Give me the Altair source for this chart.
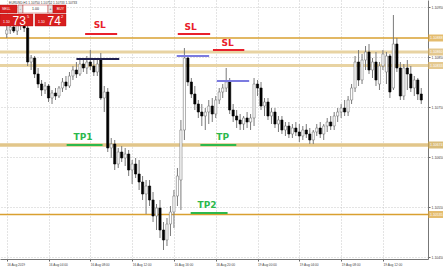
import altair as alt
import pandas as pd

# ---------------- data (prices in points, 1 point = 0.00001) ----------------
opens = [110896, 110904, 110910, 110902, 110916, 110920, 110908, 110840, 110848, 110816,
         110796, 110784, 110792, 110768, 110778, 110772, 110788, 110800, 110792, 110812,
         110824, 110816, 110836, 110828, 110840, 110832, 110820, 110844, 110768, 110780,
         110668, 110676, 110636, 110660, 110648, 110656, 110624, 110636, 110616, 110600,
         110576, 110592, 110564, 110532, 110548, 110504, 110484, 110516, 110540, 110572,
         110604, 110704, 110848, 110800, 110776, 110756, 110740, 110732, 110740, 110752,
         110736, 110764, 110780, 110788, 110800, 110744, 110732, 110724, 110716, 110728,
         110720, 110728, 110796, 110788, 110752, 110760, 110732, 110740, 110716, 110724,
         110704, 110712, 110696, 110708, 110700, 110692, 110704, 110696, 110684, 110700,
         110708, 110696, 110712, 110720, 110712, 110732, 110740, 110748, 110740, 110764,
         110788, 110840, 110804, 110844, 110860, 110824, 110840, 110796, 110832, 110820,
         110852, 110788, 110876, 110828, 110772, 110828, 110816, 110788, 110804, 110776]
highs = [110912, 110920, 110924, 110928, 110932, 110928, 110912, 110854, 110852, 110828,
         110804, 110800, 110796, 110784, 110788, 110792, 110808, 110812, 110820, 110832,
         110840, 110844, 110848, 110852, 110864, 110848, 110844, 110858, 110792, 110788,
         110688, 110684, 110668, 110672, 110668, 110664, 110644, 110648, 110644, 110612,
         110604, 110604, 110580, 110556, 110564, 110520, 110528, 110552, 110584, 110628,
         110724, 110868, 110854, 110808, 110792, 110764, 110756, 110748, 110764, 110768,
         110772, 110788, 110796, 110828, 110808, 110756, 110744, 110736, 110732, 110740,
         110736, 110808, 110804, 110800, 110768, 110768, 110748, 110748, 110732, 110732,
         110720, 110720, 110716, 110720, 110716, 110712, 110716, 110708, 110704, 110716,
         110720, 110716, 110728, 110732, 110740, 110748, 110756, 110764, 110772, 110796,
         110852, 110864, 110856, 110872, 110876, 110848, 110860, 110840, 110864, 110860,
         110856, 110934, 110888, 110840, 110836, 110844, 110832, 110812, 110808, 110788]
lows = [110888, 110896, 110898, 110894, 110904, 110900, 110832, 110824, 110808, 110788,
        110772, 110776, 110760, 110756, 110764, 110768, 110780, 110784, 110788, 110804,
        110808, 110812, 110820, 110816, 110824, 110812, 110812, 110764, 110740, 110660,
        110648, 110624, 110628, 110640, 110632, 110612, 110596, 110608, 110584, 110564,
        110536, 110552, 110520, 110504, 110488, 110464, 110472, 110492, 110508, 110552,
        110544, 110684, 110792, 110768, 110744, 110728, 110712, 110704, 110716, 110720,
        110728, 110756, 110768, 110780, 110736, 110720, 110708, 110704, 110704, 110708,
        110704, 110712, 110772, 110744, 110732, 110724, 110716, 110708, 110700, 110696,
        110692, 110688, 110688, 110692, 110680, 110684, 110688, 110676, 110676, 110692,
        110688, 110684, 110700, 110704, 110704, 110720, 110728, 110732, 110732, 110756,
        110780, 110792, 110796, 110824, 110816, 110808, 110792, 110784, 110824, 110796,
        110768, 110784, 110820, 110764, 110764, 110784, 110780, 110772, 110764, 110756]
closes = [110904, 110910, 110902, 110916, 110920, 110908, 110840, 110848, 110816, 110796,
          110784, 110792, 110768, 110778, 110772, 110788, 110800, 110792, 110812, 110824,
          110816, 110836, 110828, 110840, 110832, 110820, 110836, 110768, 110780, 110668,
          110676, 110636, 110660, 110648, 110656, 110624, 110636, 110616, 110600, 110576,
          110592, 110564, 110532, 110548, 110504, 110484, 110516, 110540, 110572, 110612,
          110704, 110848, 110800, 110776, 110756, 110740, 110732, 110740, 110752, 110736,
          110764, 110780, 110788, 110800, 110744, 110732, 110724, 110716, 110728, 110720,
          110728, 110796, 110788, 110752, 110760, 110732, 110740, 110716, 110724, 110704,
          110712, 110696, 110708, 110700, 110692, 110704, 110696, 110684, 110700, 110708,
          110696, 110712, 110720, 110712, 110732, 110740, 110748, 110740, 110764, 110788,
          110840, 110804, 110844, 110860, 110824, 110840, 110804, 110832, 110856, 110852,
          110780, 110876, 110828, 110772, 110828, 110816, 110788, 110804, 110776, 110764]

x_labels = ["16 Aug 2019", "16 Aug 02:00", "16 Aug 04:00", "16 Aug 06:00", "16 Aug 08:00",
            "16 Aug 10:00", "16 Aug 12:00", "16 Aug 14:00", "16 Aug 16:00", "16 Aug 18:00",
            "16 Aug 20:00", "16 Aug 22:00", "19 Aug 00:00", "19 Aug 02:00", "19 Aug 04:00",
            "19 Aug 06:00", "19 Aug 08:00", "19 Aug 10:00", "19 Aug 12:00", "19 Aug 14:00"]
x_tick_bars = [0, 6, 12, 18, 24, 30, 36, 42, 48, 54, 60, 66, 72, 78, 84, 90, 96, 102, 108, 114]
y_ticks = [1.10950, 1.10925, 1.10900, 1.10875, 1.10850, 1.10825, 1.10800, 1.10775, 1.10750,
           1.10725, 1.10700, 1.10675, 1.10650, 1.10625, 1.10600, 1.10575, 1.10550, 1.10525,
           1.10500, 1.10475, 1.10450]

# horizontal price levels
level_prices = [1.10888, 1.10860, 1.10833, 1.10674, 1.10535]
level_colors = ["#d9a030", "#e8d3a2", "#e8d3a2", "#e2c68a", "#d9a030"]
level_widths = [1.5, 3, 3, 3.5, 1.5]
level_box = ["#d9a030", "#d8b060", "#d8b060", "#c9a040", "#d9a030"]

# SL / TP / marker segments (bar index start/end, price)
seg_start = [22.5, 49.1, 59.2, 48.8, 60.3, 20.0, 17.2, 55.6, 52.8]
seg_end = [31.7, 58.4, 68.2, 58.1, 69.6, 32.3, 27.5, 65.9, 63.4]
seg_price = [1.10896, 1.10896, 1.10864, 1.10852, 1.10802, 1.10846, 1.10674, 1.10674, 1.10538]
seg_color = ["#e8202a", "#e8202a", "#e8202a", "#7b7be0", "#7b7be0", "#202050",
             "#2db84c", "#2db84c", "#2db84c"]

tag_text = ["SL", "SL", "SL", "TP1", "TP", "TP2"]
tag_bar = [26.7, 52.8, 63.4, 21.9, 62.0, 57.5]
tag_price = [1.10914, 1.10910, 1.10878, 1.10690, 1.10690, 1.10554]
tag_color = ["#e8202a", "#e8202a", "#e8202a", "#2db84c", "#2db84c", "#2db84c"]

# ---------------- tables ----------------
n = len(opens)
candles = pd.DataFrame({
    "bar": list(range(n)),
    "open": [v / 1e5 for v in opens],
    "high": [v / 1e5 for v in highs],
    "low": [v / 1e5 for v in lows],
    "close": [v / 1e5 for v in closes],
})
candles["up"] = candles["close"] >= candles["open"]

levels = pd.DataFrame({"price": level_prices, "color": level_colors,
                       "w": level_widths, "box": level_box,
                       "label": [f"{p:.5f}" for p in level_prices]})
segs = pd.DataFrame({"a": seg_start, "b": seg_end, "price": seg_price, "color": seg_color})
tags = pd.DataFrame({"t": tag_text, "bar": tag_bar, "price": tag_price, "color": tag_color})

W, H = 428, 259
xs = alt.Scale(domain=[-0.5, n - 0.5], nice=False, zero=False)
ys = alt.Scale(domain=[1.10446, 1.10964], nice=False, zero=False)
FONT = "Liberation Sans"

label_expr = "[" + ",".join(f"'{s}'" for s in x_labels) + "][round(datum.value / 6)]"

xaxis = alt.Axis(values=x_tick_bars, labelExpr=label_expr, labelAlign="left", labelFontSize=3.2,
                 labelColor="#444", labelPadding=1, labelOverlap=False, tickSize=2, tickColor="#666",
                 domainColor="#777", grid=True, gridColor="#c8c8c8", gridDash=[1, 2], title=None,
                 labelFont=FONT, labelFlush=False)
yaxis = alt.Axis(orient="right", values=y_ticks, format=".5f", labelFontSize=3.5, labelColor="#444",
                 labelPadding=1, labelOverlap=False, tickSize=2, tickColor="#666", domainColor="#777",
                 grid=True, gridColor="#c8c8c8", gridDash=[1, 2], title=None, labelFont=FONT)

base = alt.Chart(candles)

grid = base.mark_point(opacity=0).encode(
    x=alt.X("bar:Q", scale=xs, axis=xaxis),
    y=alt.Y("close:Q", scale=ys, axis=yaxis),
)

lv = alt.Chart(levels).mark_rule().encode(
    y=alt.Y("price:Q", scale=ys),
    color=alt.Color("color:N", scale=None),
    strokeWidth=alt.StrokeWidth("w:Q", scale=None),
)

wicks = base.mark_rule(strokeWidth=1, color="#7a7a7a").encode(
    x=alt.X("bar:Q", scale=xs), y=alt.Y("low:Q", scale=ys), y2="high:Q")

bodies = base.mark_bar(size=2.2, strokeWidth=0.6).encode(
    x=alt.X("bar:Q", scale=xs), y=alt.Y("open:Q", scale=ys), y2="close:Q",
    fill=alt.condition("datum.up", alt.value("#ffffff"), alt.value("#000000")),
    stroke=alt.condition("datum.up", alt.value("#7a7a7a"), alt.value("#000000")),
)

sg = alt.Chart(segs).mark_rule(strokeWidth=2).encode(
    x=alt.X("a:Q", scale=xs), x2="b:Q", y=alt.Y("price:Q", scale=ys),
    color=alt.Color("color:N", scale=None))

tg = alt.Chart(tags).mark_text(fontSize=9, fontWeight="bold", font="DejaVu Sans", baseline="middle").encode(
    x=alt.X("bar:Q", scale=xs), y=alt.Y("price:Q", scale=ys), text="t:N",
    color=alt.Color("color:N", scale=None))

boxes = alt.Chart(levels).mark_tick(size=15, thickness=7, orient="horizontal").encode(
    x=alt.value(435.5), y=alt.Y("price:Q", scale=ys), color=alt.Color("box:N", scale=None))
boxtxt = alt.Chart(levels).mark_text(fontSize=3.5, color="white", align="left", baseline="middle",
                                     font=FONT).encode(
    x=alt.value(430), y=alt.Y("price:Q", scale=ys), text="label:N")

# ---------------- one-click trading panel (decoration, pixel positions) ----------------
panel_rects = pd.DataFrame({
    "x": [0, 18, 23, 48, 53, 0, 35],
    "x2": [17, 23, 48, 53, 66, 33, 66],
    "y": [5, 5, 5, 5, 5, 14, 14],
    "y2": [13, 13, 13, 13, 13, 26, 26],
    "c": ["#d81e1e", "#e4e4e4", "#ffffff", "#e4e4e4", "#d81e1e", "#d81e1e", "#d81e1e"],
})
pr = alt.Chart(panel_rects).mark_rect(stroke="#b01010", strokeWidth=0.4).encode(
    x=alt.X("x:Q", scale=None), x2="x2:Q", y=alt.Y("y:Q", scale=None), y2="y2:Q",
    fill=alt.Fill("c:N", scale=None))

panel_text = pd.DataFrame({
    "x": [9, 2, 20.5, 35.5, 50.5, 64, 3, 12.5, 27, 38, 47.5, 61],
    "y": [2.5, 9, 9, 9, 9, 9, 22, 20.5, 16.5, 22, 20.5, 16.5],
    "t": ["EURUSD,H1  1.10750 1.10752 1.10733 1.10733", "SELL", "-", "1.00", "+", "BUY",
          "1.10", "73", "5", "1.10", "74", "2"],
    "s": [3.2, 3.5, 4, 3.5, 4, 3.5, 3.5, 12, 4, 3.5, 12, 4],
    "c": ["#333333", "#ffffff", "#333333", "#222222", "#333333", "#ffffff",
          "#ffffff", "#ffffff", "#ffffff", "#ffffff", "#ffffff", "#ffffff"],
    "a": ["left", "left", "center", "center", "center", "right",
          "left", "left", "left", "left", "left", "left"],
})
pts = []
for al in ["left", "center", "right"]:
    sub = panel_text[panel_text["a"] == al]
    pts.append(alt.Chart(sub).mark_text(align=al, baseline="middle", font=FONT).encode(
        x=alt.X("x:Q", scale=None), y=alt.Y("y:Q", scale=None), text="t:N",
        size=alt.Size("s:Q", scale=None), color=alt.Color("c:N", scale=None)))

chart = alt.layer(grid, lv, wicks, bodies, sg, tg, boxes, boxtxt, pr, *pts).properties(
    width=W, height=H,
    autosize=alt.AutoSizeParams(type="none"),
    padding={"left": 0, "top": 0, "right": 15, "bottom": 8},
    background="white",
).configure_view(stroke=None)

chart.save("out.html", embed_options={"renderer": "svg", "actions": False})
